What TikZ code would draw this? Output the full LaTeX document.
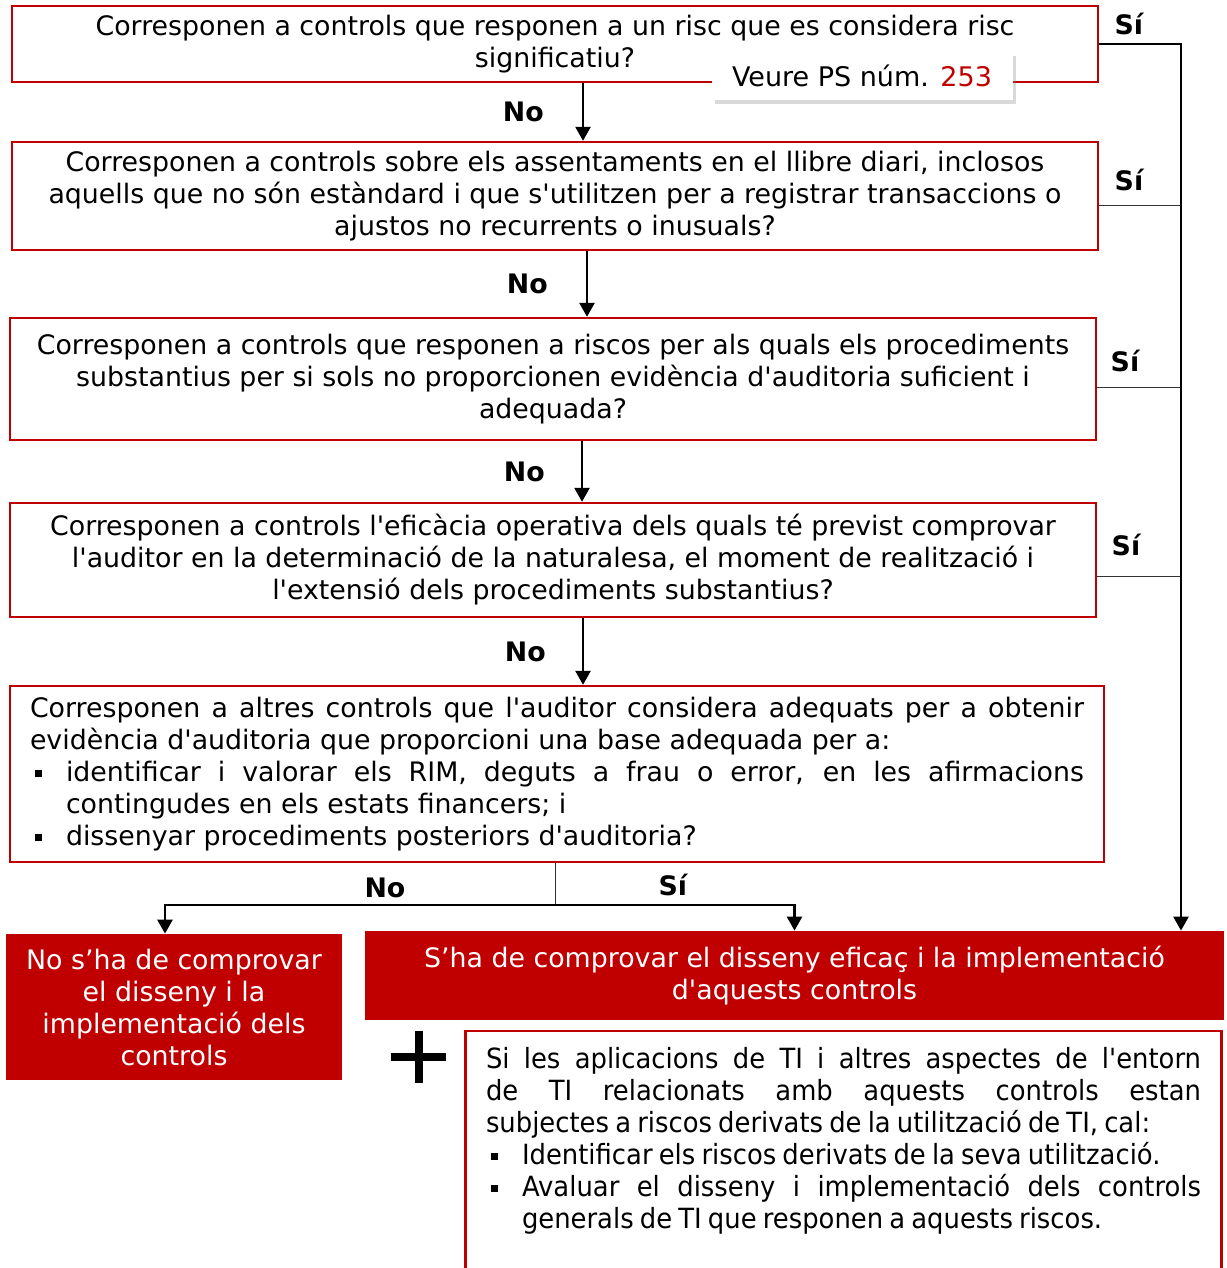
\documentclass[tikz,border=0pt]{standalone}
\usepackage{fontspec}
\setmainfont{DejaVu Sans}[Ligatures=TeXOff]
\newfontfamily\narrowfont{DejaVu Sans}[Ligatures=TeXOff,FakeStretch=0.93,WordSpace=0.75]
\usetikzlibrary{arrows.meta,shadows,positioning}
\definecolor{auditred}{HTML}{C00000}
\hyphenpenalty=10000
\exhyphenpenalty=10000
\newcommand{\sqbullet}{\hangindent=18pt\hangafter=1\noindent
  \makebox[18pt][l]{\hspace{2.5pt}\raisebox{2.3pt}{\rule{3.3pt}{3.3pt}}}}

\begin{document}
\begin{tikzpicture}[x=0.5pt,y=-0.5pt,
    qbox/.style={draw=auditred,line width=1.2pt,align=center,inner sep=0pt,
      font=\fontsize{13.4}{16}\selectfont},
    redbox/.style={fill=auditred,text=white,align=center,inner sep=0pt,
      font=\fontsize{13.4}{16}\selectfont},
    arr/.style={line width=1.3pt,-{Triangle[width=7.5pt,length=7pt]}},
    thinline/.style={line width=0.5pt,black!80},
    lbl/.style={text=black,font=\bfseries\fontsize{13.4}{14}\selectfont,inner sep=0pt}]
    \useasboundingbox (0,0) rectangle (1226,1268);
    \node[qbox,minimum width=543pt,minimum height=38pt] (q1) at (555,44)
      {Corresponen a controls que responen a un risc que es considera risc\\significatiu?};
    \node[fill=white,inner sep=0pt,minimum width=150.5pt,minimum height=24pt,
      drop shadow={shadow xshift=1.5pt,shadow yshift=-2pt,opacity=0.3},
      font=\fontsize{13.5}{15}\selectfont] (ps) at (862,76)
      {Veure PS núm. \textcolor{auditred}{253}};
    \node[qbox,minimum width=543pt,minimum height=54pt] (q2) at (555,196)
      {Corresponen a controls sobre els assentaments en el llibre diari, inclosos\\aquells que no són estàndard i que s'utilitzen per a registrar transaccions o\\ajustos no recurrents o inusuals?};
    \node[qbox,minimum width=543pt,minimum height=61pt] (q3) at (553,379)
      {Corresponen a controls que responen a riscos per als quals els procediments\\substantius per si sols no proporcionen evidència d'auditoria suficient i\\adequada?};
    \node[qbox,minimum width=543pt,minimum height=57pt] (q4) at (553,560)
      {Corresponen a controls l'eficàcia operativa dels quals té previst comprovar\\l'auditor en la determinació de la naturalesa, el moment de realització i\\l'extensió dels procediments substantius?};
    \node[qbox,align=justify,text width=527pt,inner xsep=10pt,minimum height=88pt] (q5) at (557,774)
      {Corresponen a altres controls que l'auditor considera adequats per a obtenir evidència d'auditoria que proporcioni una base adequada per a:\par
       \sqbullet identificar i valorar els RIM, deguts a frau o error, en les afirmacions contingudes en els estats financers; i\par
       \sqbullet dissenyar procediments posteriors d'auditoria?\par};
    \node[redbox,minimum width=168pt,minimum height=73pt] (notest) at (174,1007)
      {No s’ha de comprovar\\el disseny i la\\implementació dels\\controls};
    \node[redbox,minimum width=429.5pt,minimum height=44.5pt] (test) at (794.5,975.5)
      {S’ha de comprovar el disseny eficaç i la implementació\\d'aquests controls};
    \node[anchor=north,align=justify,text width=357.5pt,inner xsep=10pt,inner ysep=8pt,
      font=\narrowfont\fontsize{13.9}{16}\selectfont] (it) at (843.5,1031)
      {Si les aplicacions de TI i altres aspectes de l'entorn\linebreak de TI relacionats amb aquests controls estan\linebreak subjectes a riscos derivats de la utilització de TI, cal:\par
       \sqbullet Identificar els riscos derivats de la seva utilització.\par
       \sqbullet Avaluar el disseny i implementació dels controls\linebreak generals de TI que responen a aquests riscos.\par};
    \draw[draw=auditred,line width=1.2pt] (it.north west) rectangle ([yshift=-20pt]it.south east);
    \draw[line width=4pt] (391,1057) -- (446,1057) (418.5,1031) -- (418.5,1083);
    \draw[arr] ([xshift=14pt]q1.south) -- ([xshift=14pt]q1.south |- q2.north)
      node[lbl,midway,left=19pt] {No};
    \draw[arr] ([xshift=16pt]q2.south) -- ([xshift=16pt]q2.south |- q3.north)
      node[lbl,midway,left=19pt] {No};
    \draw[arr] ([xshift=14.5pt]q3.south) -- ([xshift=14.5pt]q3.south |- q4.north)
      node[lbl,midway,left=18pt] {No};
    \draw[arr] ([xshift=15pt]q4.south) -- ([xshift=15pt]q4.south |- q5.north)
      node[lbl,midway,left=18pt] {No};
    \coordinate (rail) at (1181,44);
    \coordinate (split) at (555,905);
    \draw[thinline] (q5.south -| split) -- (split);
    \draw[arr] (split) -| ([xshift=-4.5pt]notest.north)
      node[lbl,pos=0.218,above=3pt] {No};
    \draw[arr] (split) -| (test.north)
      node[lbl,pos=0.246,above=4pt] {Sí};
    \draw[thinline] ([yshift=-4.5pt]q2.east) -- ([yshift=-4.5pt]q2.east -| rail)
      node[lbl,pos=0,above right=7pt and 7.5pt] {Sí};
    \draw[thinline] ([yshift=-4pt]q3.east) -- ([yshift=-4pt]q3.east -| rail)
      node[lbl,pos=0,above right=7.5pt and 6.5pt] {Sí};
    \draw[thinline] ([yshift=-8pt]q4.east) -- ([yshift=-8pt]q4.east -| rail)
      node[lbl,pos=0,above right=10pt and 7pt] {Sí};
    \draw[arr] (q1.east) -- (rail) node[lbl,pos=0,above right=4pt and 7pt] {Sí}
      -- (rail |- test.north);
\end{tikzpicture}
\end{document}
